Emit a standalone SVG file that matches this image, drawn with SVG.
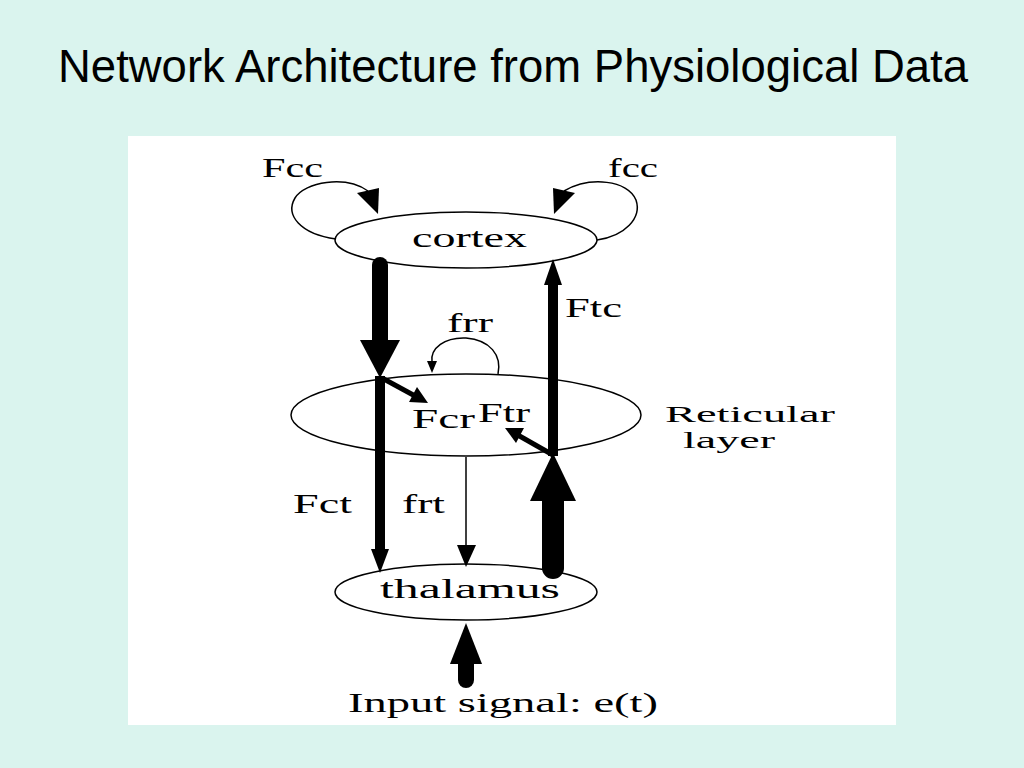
<svg xmlns="http://www.w3.org/2000/svg" width="1024" height="768" viewBox="0 0 1024 768">
<style>
.bg{fill:#DAF4EE}
.panel{fill:#FFFFFF}
.title{font-family:"Liberation Sans",Arial,sans-serif;font-size:46px;fill:#000}
.node{fill:#FFFFFF;stroke:#000;stroke-width:1.5}
.lbl{font-family:"Liberation Serif","Times New Roman",serif;font-size:28px;fill:#000}
.sm{font-size:24px}
.blk{fill:#000;stroke:none}
.thin{fill:none;stroke:#000;stroke-width:1.5}
.med{fill:none;stroke:#000;stroke-width:5}
</style>
<rect class="bg" x="0" y="0" width="1024" height="768"/>
<rect class="panel" x="128" y="136" width="768" height="589"/>
<text class="title" x="58" y="82" textLength="910" lengthAdjust="spacingAndGlyphs">Network Architecture from Physiological Data</text>

<g id="cortex">
<ellipse class="node" cx="466" cy="240" rx="131" ry="28"/>
<text class="lbl" x="412" y="247" textLength="115" lengthAdjust="spacingAndGlyphs">cortex</text>
</g>
<g id="reticular">
<ellipse class="node" cx="466" cy="415" rx="175" ry="41"/>
<text class="lbl sm" x="665" y="422" textLength="170" lengthAdjust="spacingAndGlyphs">Reticular</text>
<text class="lbl sm" x="683" y="448" textLength="92" lengthAdjust="spacingAndGlyphs">layer</text>
</g>
<g id="thalamus">
<ellipse class="node" cx="466" cy="592" rx="131" ry="28"/>
<text class="lbl" x="380" y="598" textLength="180" lengthAdjust="spacingAndGlyphs">thalamus</text>
</g>
<g id="input">
<text class="lbl" x="348" y="712" textLength="310" lengthAdjust="spacingAndGlyphs">Input signal: e(t)</text>
</g>

<g id="connectors">
<!-- Fcc self loop -->
<path class="thin" d="M336,239 C300,234 285,215 295,198 C305,182 345,175 368,191"/>
<polygon class="blk" points="357,193 379,188 378,214"/>
<text class="lbl" x="262" y="177" textLength="61" lengthAdjust="spacingAndGlyphs">Fcc</text>
<!-- fcc self loop -->
<path class="thin" d="M597,240 C625,236 642,218 636,200 C628,180 590,176 564,191"/>
<polygon class="blk" points="553,188 575,193 554,214"/>
<text class="lbl" x="608" y="177" textLength="50" lengthAdjust="spacingAndGlyphs">fcc</text>
<!-- Fct: cortex -> thalamus -->
<path class="blk" d="M372,342 L372,265 A8,8 0 0 1 388,265 L388,342 Z"/>
<polygon class="blk" points="360,340 400,340 380,378"/>
<rect class="blk" x="375" y="376" width="10" height="176"/>
<polygon class="blk" points="371,549 389,549 380,573"/>
<text class="lbl" x="293" y="513" textLength="59" lengthAdjust="spacingAndGlyphs">Fct</text>
<!-- Ftc: thalamus -> cortex -->
<path class="blk" d="M542,500 L542,568 A11,11 0 0 0 564,568 L564,500 Z"/>
<polygon class="blk" points="530,501 576,501 553,453"/>
<rect class="blk" x="548" y="282" width="10" height="174"/>
<polygon class="blk" points="544,285 562,285 553,259"/>
<text class="lbl" x="565" y="317" textLength="57" lengthAdjust="spacingAndGlyphs">Ftc</text>
<!-- frr self loop -->
<path class="thin" d="M498,374 C502,355 490,340 466,338 C445,337 430,348 432,362"/>
<polygon class="blk" points="427,361 437,361 432,373"/>
<text class="lbl" x="447" y="332" textLength="46" lengthAdjust="spacingAndGlyphs">frr</text>
<!-- Fcr -->
<line class="med" x1="382" y1="378" x2="416" y2="396.5"/>
<polygon class="blk" points="428,403 409,402 417,387"/>
<text class="lbl" x="412" y="428" textLength="63" lengthAdjust="spacingAndGlyphs">Fcr</text>
<!-- Ftr -->
<line class="med" x1="553" y1="455" x2="516" y2="434"/>
<polygon class="blk" points="505,428 524,428 516,443"/>
<text class="lbl" x="478" y="422" textLength="52" lengthAdjust="spacingAndGlyphs">Ftr</text>
<!-- frt -->
<line class="thin" x1="466" y1="457" x2="466" y2="547"/>
<polygon class="blk" points="457,545 476,545 466,567"/>
<text class="lbl" x="402" y="513" textLength="43" lengthAdjust="spacingAndGlyphs">frt</text>
<!-- input -->
<path class="blk" d="M458,660 L458,680 A8,8 0 0 0 474,680 L474,660 Z"/>
<polygon class="blk" points="450,664 482,664 466,623"/>
</g>
</svg>
